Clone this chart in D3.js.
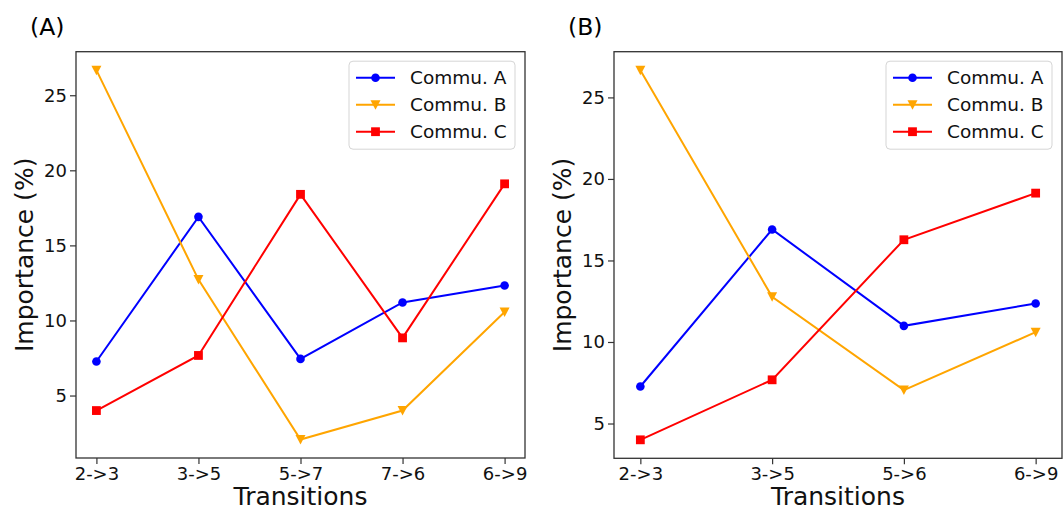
<!DOCTYPE html>
<html>
<head>
<meta charset="utf-8">
<script src="https://cdn.jsdelivr.net/npm/d3@7"></script>
<style>
  body { margin: 0; background: #fff; }
  svg { display: block; font-family: "DejaVu Sans", sans-serif; }
</style>
</head>
<body>
<div id="chart"></div>
<script>
// panel (A)
var catsA = ["2->3", "3->5", "5->7", "7->6", "6->9"];
var communA_A = [7.27, 16.9, 7.44, 11.2, 12.33];
var communB_A = [26.67, 12.72, 2.07, 4.0, 10.56];
var communC_A = [4.0, 7.67, 18.4, 8.84, 19.1];

// panel (B)
var catsB = ["2->3", "3->5", "5->6", "6->9"];
var communA_B = [7.27, 16.9, 10.99, 12.36];
var communB_B = [26.67, 12.77, 7.05, 10.6];
var communC_B = [4.0, 7.68, 16.27, 19.13];

var seriesNames = ["Commu. A", "Commu. B", "Commu. C"];
var yTicks = [5, 10, 15, 20, 25];

var WIDTH = 1064, HEIGHT = 510;
var colors = ["#0000ff", "#ffa500", "#ff0000"];
var shapes = ["circle", "triangle", "square"];

var svg = d3.select("#chart").append("svg")
    .attr("width", WIDTH)
    .attr("height", HEIGHT);

function drawMarker(sel, shape, color) {
    if (shape == "circle") {
        sel.append("circle").attr("r", 4.3).attr("fill", color);
    } else if (shape == "square") {
        sel.append("rect").attr("x", -4.4).attr("y", -4.4)
            .attr("width", 8.8).attr("height", 8.8).attr("fill", color);
    } else {
        sel.append("path").attr("d", "M-5,-4.5L5,-4.5L0,5Z").attr("fill", color);
    }
}

function panel(box, label, cats, data) {
    var x = d3.scalePoint().domain(cats).range([box.left, box.right]).padding(0.2);
    var all = d3.merge(data);
    var lo = d3.min(all), hi = d3.max(all), pad = (hi - lo) * 0.05;
    var y = d3.scaleLinear().domain([lo - pad, hi + pad]).range([box.bottom, box.top]);

    var g = svg.append("g");

    g.append("text")
        .attr("x", box.left - 46).attr("y", 35)
        .attr("font-size", 23.5).attr("fill", "#000")
        .text(label);

    // axes
    g.append("g")
        .attr("transform", "translate(0," + box.bottom + ")")
        .call(d3.axisBottom(x).tickSize(6).tickPadding(3))
        .call(function (a) {
            a.select(".domain").remove();
            a.selectAll("line").attr("stroke", "#333").attr("stroke-width", 1.2);
            a.selectAll("text").attr("font-size", 18).attr("fill", "#111")
                .attr("font-family", "DejaVu Sans");
        });
    g.append("g")
        .attr("transform", "translate(" + box.left + ",0)")
        .call(d3.axisLeft(y).tickValues(yTicks).tickSize(6).tickPadding(3))
        .call(function (a) {
            a.select(".domain").remove();
            a.selectAll("line").attr("stroke", "#333").attr("stroke-width", 1.2);
            a.selectAll("text").attr("font-size", 18).attr("fill", "#111")
                .attr("font-family", "DejaVu Sans");
        });

    g.append("text")
        .attr("x", (box.left + box.right) / 2).attr("y", 505)
        .attr("text-anchor", "middle").attr("font-size", 25).attr("fill", "#111")
        .text("Transitions");
    g.append("text")
        .attr("transform", "translate(" + (box.left - 43) + "," + ((box.top + box.bottom) / 2) + ")rotate(-90)")
        .attr("text-anchor", "middle").attr("font-size", 25).attr("fill", "#111")
        .text("Importance (%)");

    var line = d3.line()
        .x(function (d, i) { return x(cats[i]); })
        .y(function (d) { return y(d); });

    data.forEach(function (vals, k) {
        g.append("path")
            .attr("d", line(vals))
            .attr("fill", "none")
            .attr("stroke", colors[k])
            .attr("stroke-width", 2);
        vals.forEach(function (v, i) {
            var m = g.append("g").attr("transform", "translate(" + x(cats[i]) + "," + y(v) + ")");
            drawMarker(m, shapes[k], colors[k]);
        });
    });

    g.append("rect")
        .attr("x", box.left).attr("y", box.top)
        .attr("width", box.right - box.left).attr("height", box.bottom - box.top)
        .attr("fill", "none").attr("stroke", "#333").attr("stroke-width", 1.3);

    // legend
    var lw = 166, lh = 88;
    var lx = box.right - 10 - lw, ly = box.top + 9.5;
    var leg = g.append("g").attr("transform", "translate(" + lx + "," + ly + ")");
    leg.append("rect")
        .attr("width", lw).attr("height", lh).attr("rx", 4)
        .attr("fill", "#fff").attr("fill-opacity", 0.8)
        .attr("stroke", "#d5d5d5").attr("stroke-width", 1);
    seriesNames.forEach(function (name, k) {
        var ry = 16.5 + k * 27;
        leg.append("line")
            .attr("x1", 7).attr("x2", 46).attr("y1", ry).attr("y2", ry)
            .attr("stroke", colors[k]).attr("stroke-width", 2);
        var m = leg.append("g").attr("transform", "translate(26.5," + ry + ")");
        drawMarker(m, shapes[k], colors[k]);
        leg.append("text")
            .attr("x", 61).attr("y", ry).attr("dy", "0.36em")
            .attr("font-size", 18.5).attr("fill", "#111")
            .text(name);
    });
}

panel({left: 76, right: 525, top: 51.7, bottom: 458}, "(A)", catsA,
    [communA_A, communB_A, communC_A]);
panel({left: 614, right: 1062, top: 51.7, bottom: 458.3}, "(B)", catsB,
    [communA_B, communB_B, communC_B]);
</script>
</body>
</html>
